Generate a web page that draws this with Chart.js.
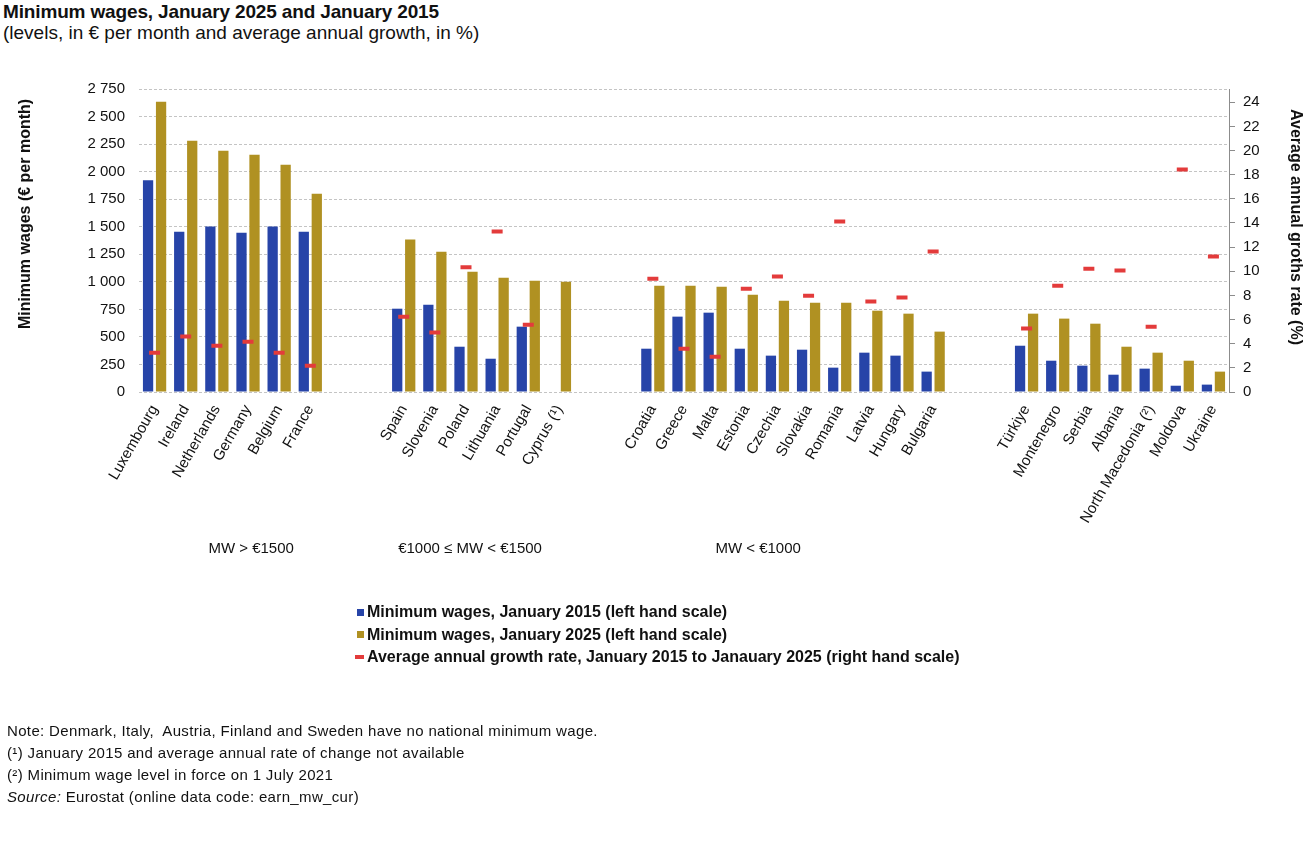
<!DOCTYPE html>
<html>
<head>
<meta charset="utf-8">
<script src="https://cdn.jsdelivr.net/npm/chart.js@4/dist/chart.umd.min.js"></script>
<style>
  html, body { margin: 0; padding: 0; background: #fff; }
  body { width: 1313px; height: 843px; position: relative; overflow: hidden; font-family: "Liberation Sans", Arial, sans-serif; color: #111; }
  #wrap { position: absolute; left: 0; top: 0; width: 1313px; height: 843px; }
  .title { position: absolute; left: 3px; top: 1px; font-size: 19px; font-weight: bold; line-height: 22px; white-space: nowrap; letter-spacing: -0.15px; }
  .subtitle { position: absolute; left: 3px; top: 22px; font-size: 19px; line-height: 22px; white-space: nowrap; }
  #legend { position: absolute; left: 355px; top: 601px; font-size: 16px; font-weight: bold; line-height: 22.5px; }
  #legend .item { display: flex; align-items: center; white-space: nowrap; }
  #legend .mk { display: inline-block; margin-right: 3px; }
  .notes { position: absolute; left: 7px; top: 719.5px; font-size: 15px; line-height: 22.3px; white-space: pre; letter-spacing: 0.35px; }
</style>
</head>
<body>
<div class="title">Minimum wages, January 2025 and January 2015</div>
<div class="subtitle">(levels, in € per month and average annual growth, in %)</div>
<div id="wrap"><canvas id="c" width="1313" height="843"></canvas></div>
<div id="legend"></div>
<div class="notes">Note: Denmark, Italy,  Austria, Finland and Sweden have no national minimum wage.
(¹) January 2015 and average annual rate of change not available
(²) Minimum wage level in force on 1 July 2021
<i>Source:</i> Eurostat (online data code: earn_mw_cur)</div>
<script>
// Categories ('' = spacer between groups)
const categories = [
  'Luxembourg','Ireland','Netherlands','Germany','Belgium','France','','',
  'Spain','Slovenia','Poland','Lithuania','Portugal','Cyprus (¹)','','',
  'Croatia','Greece','Malta','Estonia','Czechia','Slovakia','Romania','Latvia','Hungary','Bulgaria','','',
  'Türkiye','Montenegro','Serbia','Albania','North Macedonia (²)','Moldova','Ukraine'
];
// Minimum wages January 2015 (€ per month)
const mw2015 = [1921,1455,1501,1446,1501,1455,null,null,
  756,793,411,302,593,null,null,null,
  393,684,720,393,330,384,221,357,330,185,null,null,
  420,284,239,157,212,57,67];
// Minimum wages January 2025 (€ per month)
const mw2025 = [2635,2281,2190,2154,2063,1800,null,null,
  1383,1274,1092,1038,1010,1001,null,null,
  965,965,956,883,829,811,811,738,711,548,null,null,
  711,666,620,411,357,284,185];
// Average annual growth rate 2015-2025 (%)
const growth = [3.26,4.59,3.84,4.17,3.26,2.18,null,null,
  6.24,4.92,10.33,13.29,5.58,null,null,null,
  9.39,3.59,2.93,8.56,9.56,7.98,14.12,7.49,7.82,11.63,null,null,
  5.25,8.81,10.22,10.06,5.41,18.43,11.22];
// Group captions and the (fractional) category index they are centred on
const groupLabels = ['MW > €1500', '€1000 ≤ MW < €1500', 'MW < €1000'];
const groupLabelAt = [3.1, 10.13, 19.38];
// Axis titles
const leftAxisTitle = 'Minimum wages (€ per month)';
const rightAxisTitle = 'Average annual groths rate (%)';

const BLUE = '#2744a8', GOLD = '#b09122', RED = '#e33b3b';
const FONT = '"Liberation Sans", Arial, sans-serif';

Chart.defaults.font.family = FONT;
Chart.defaults.font.size = 15;
Chart.defaults.color = '#111';

const annotationPlugin = {
  id: 'annotations',
  afterDraw(chart) {
    const ctx = chart.ctx, x = chart.scales.x, area = chart.chartArea;
    ctx.save();
    ctx.fillStyle = '#111';
    ctx.textAlign = 'center';
    ctx.textBaseline = 'middle';
    // group captions under the category axis
    ctx.font = '15px ' + FONT;
    groupLabels.forEach((t, i) => ctx.fillText(t, x.getPixelForValue(groupLabelAt[i]), 549));
    // axis titles
    ctx.font = 'bold 16px ' + FONT;
    ctx.save();
    ctx.translate(26, area.top + 125);
    ctx.rotate(-Math.PI / 2);
    ctx.fillText(leftAxisTitle, 0, 0);
    ctx.restore();
    ctx.save();
    ctx.translate(1295, area.top + 138);
    ctx.rotate(Math.PI / 2);
    ctx.fillText(rightAxisTitle, 0, 0);
    ctx.restore();
    ctx.restore();
  }
};

const fmt = v => String(v).replace(/\B(?=(\d{3})+(?!\d))/g, ' ');

const chart = new Chart(document.getElementById('c'), {
  type: 'bar',
  data: {
    labels: categories,
    datasets: [
      { label: 'Minimum wages, January 2015 (left hand scale)', data: mw2015, backgroundColor: BLUE, yAxisID: 'y', order: 1,
        categoryPercentage: 0.835, barPercentage: 0.79 },
      { label: 'Minimum wages, January 2025 (left hand scale)', data: mw2025, backgroundColor: GOLD, yAxisID: 'y', order: 1,
        categoryPercentage: 0.835, barPercentage: 0.79 },
      { type: 'line', label: 'Average annual growth rate, January 2015 to Janauary 2025 (right hand scale)', data: growth,
        yAxisID: 'y2', order: 0, showLine: false, pointStyle: 'line', pointRadius: 5.5, pointHoverRadius: 5.5,
        pointBorderWidth: 4, pointHoverBorderWidth: 4, borderColor: RED, backgroundColor: RED, pointBorderColor: RED }
    ]
  },
  options: {
    responsive: false,
    animation: false,
    layout: { padding: { top: 89, left: 0, right: 0, bottom: 0 } },
    plugins: { legend: { display: false }, tooltip: { enabled: false }, title: { display: false } },
    scales: {
      x: {
        grid: { display: false },
        border: { display: false },
        ticks: { autoSkip: false, minRotation: 60, maxRotation: 60, padding: 2, font: { size: 15 } },
        afterFit(s) { s.height = 843 - 89 - 303; }
      },
      y: {
        position: 'left',
        min: 0, max: 2750,
        ticks: { stepSize: 250, padding: 14, callback: v => fmt(v), font: { size: 15 } },
        grid: { color: '#c4c4c4', lineWidth: 1, drawTicks: false },
        border: { display: false, dash: [3, 2] },
        title: { display: false, text: leftAxisTitle },
        afterFit(s) { s.width = 139; }
      },
      y2: {
        position: 'right',
        min: 0, max: 25.1,
        ticks: { stepSize: 2, includeBounds: false, padding: 8, font: { size: 15 } },
        grid: { drawOnChartArea: false, drawTicks: true, tickLength: 6, color: '#8c8c8c' },
        border: { display: true, color: '#8c8c8c', width: 1 },
        title: { display: false, text: rightAxisTitle },
        afterFit(s) { s.width = 1313 - 1229; }
      }
    }
  },
  plugins: [annotationPlugin]
});

// HTML legend built from the datasets
const legend = document.getElementById('legend');
chart.data.datasets.forEach(ds => {
  const item = document.createElement('div');
  item.className = 'item';
  const mk = document.createElement('span');
  mk.className = 'mk';
  if (ds.type === 'line') {
    mk.style.cssText = 'width:9px;height:4px;background:' + ds.borderColor + ';';
  } else {
    mk.style.cssText = 'width:7px;height:7px;background:' + ds.backgroundColor + ';margin-left:2px;';
  }
  item.appendChild(mk);
  const t = document.createElement('span');
  t.textContent = ds.label;
  item.appendChild(t);
  legend.appendChild(item);
});
</script>
</body>
</html>
